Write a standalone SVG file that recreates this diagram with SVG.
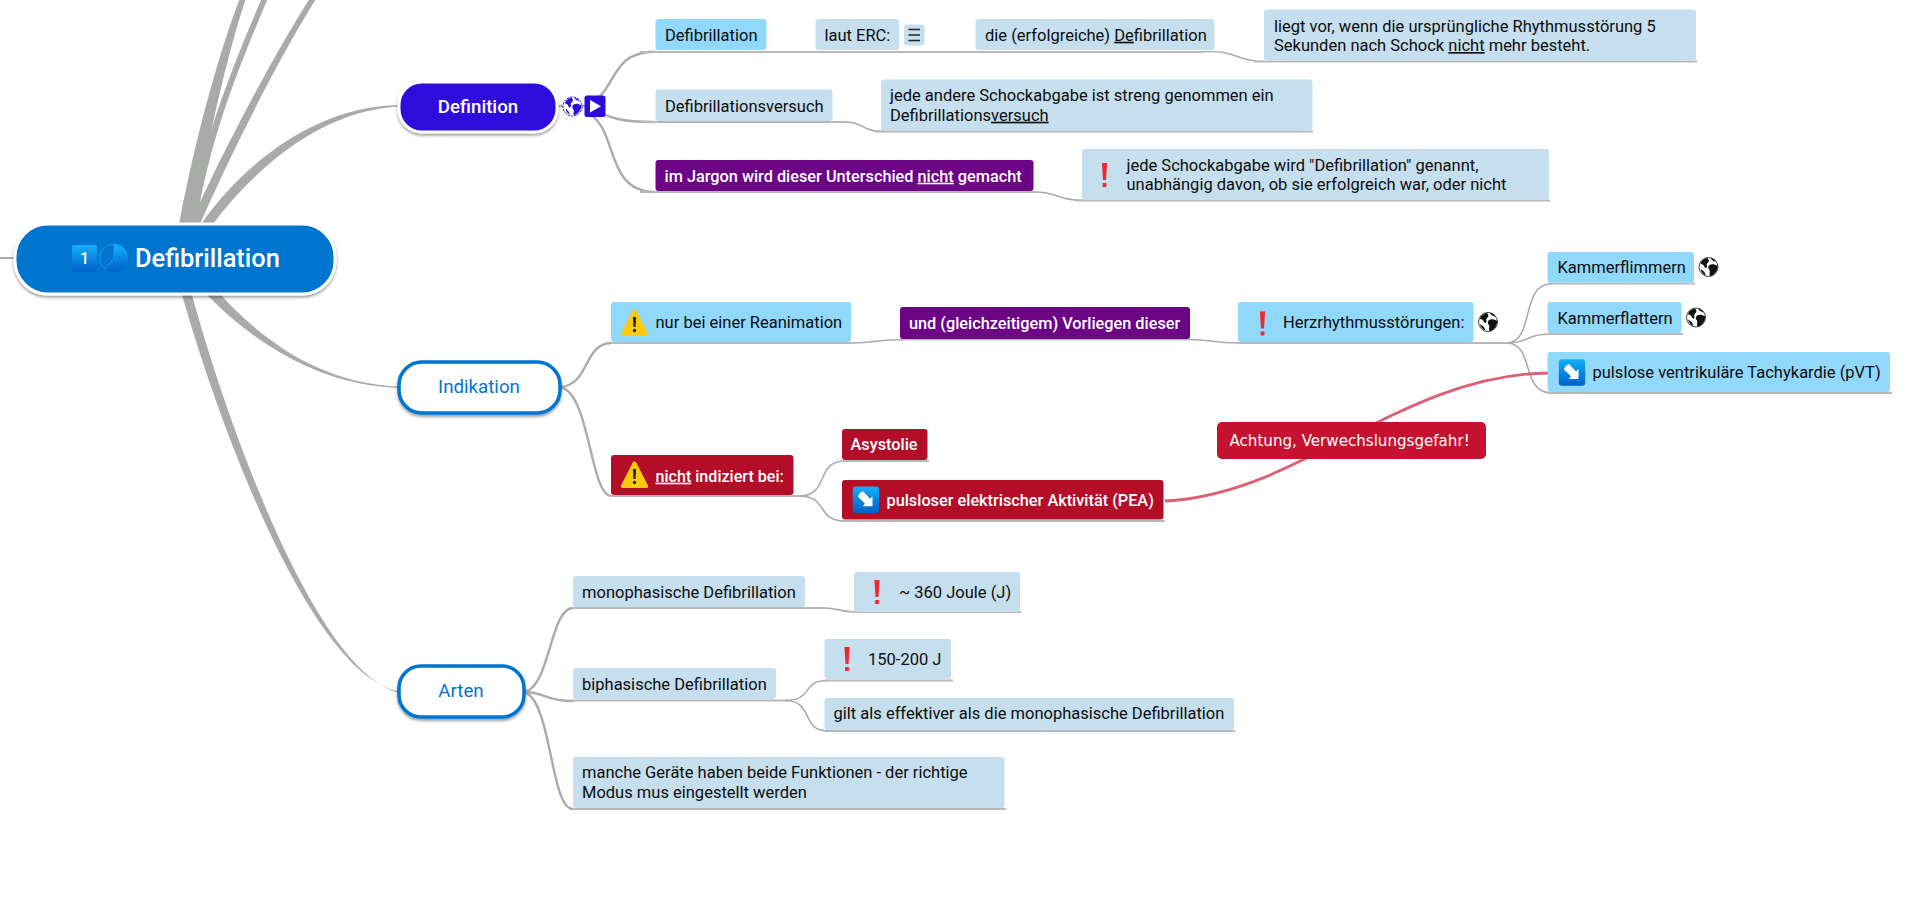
<svg xmlns="http://www.w3.org/2000/svg" xmlns:xlink="http://www.w3.org/1999/xlink" width="1920" height="906" viewBox="0 0 1920 906">
<style>
text{font-family:Roboto,"Liberation Sans",sans-serif;font-size:16.5px;fill:#0d0d0d}
.w{fill:#fff;font-weight:500;font-size:16.3px}
.u{text-decoration:underline}
.lb{fill:#c5dfee}.br{fill:#91d8fd}.pu{fill:#6c0485}.re{fill:#b40d28}
.l3{fill:none;stroke:#aaabaa;stroke-width:1.6}
.ul{fill:none;stroke:#b9b9b9;stroke-width:2}
.l2{fill:none;stroke:#aaabaa;stroke-width:2.4}
.th{fill:#a9aba9}
.lv1{font-size:18.7px;font-weight:500;text-anchor:middle}
.top{stroke:#fff;stroke-width:3;filter:url(#sh)}
.out{fill:#fff;stroke:#0274d0;stroke-width:3.5;filter:url(#sh)}
</style>
<defs>
<filter id="sh" x="-10%" y="-20%" width="120%" height="150%"><feDropShadow dx="0" dy="2" stdDeviation="1.6" flood-color="#000" flood-opacity=".4"/></filter>
<linearGradient id="ic" x1="0" y1="0" x2="0" y2="1"><stop offset="0" stop-color="#14b0f8"/><stop offset="1" stop-color="#0060c8"/></linearGradient>
<g id="excl"><path d="M-2.6,-12 L2.6,-12 L1.5,5 L-1.5,5 Z" fill="#f0272c"/><rect x="-1.9" y="8" width="3.8" height="4" fill="#f0272c"/></g>
<g id="warn"><path d="M0,-13.5 C1,-13.5 1.5,-13 2,-12 L13.5,10.5 C14,12 13,13 12,13 L-12,13 C-13,13 -14,12 -13.5,10.5 L-2,-12 C-1.5,-13 -1,-13.5 0,-13.5 Z" fill="#fcc90f"/><path d="M-1.6,-6 L1.6,-6 L1,4 L-1,4 Z" fill="#222"/><circle cy="7.5" r="1.7" fill="#222"/></g>
<g id="arrow"><rect x="-13.2" y="-13.2" width="26.4" height="26.4" rx="3" fill="url(#ic)"/><path d="M-6.5,-6.5 L-3,-8.5 L4,-1 L6.5,-3.5 L6.5,6.5 L-3.5,6.5 L-1,4 L-8,-3 Z" fill="#fff"/></g>
<g id="globe"><circle r="9.5" fill="#fff" stroke="#111" stroke-width=".8"/><path d="M-1,-9 C-4,-8.8 -7.5,-6 -8,-3 C-6,-3 -4.5,-2 -4,0 C-3,2 -1.5,1 -1.5,-1 C-2.5,-3 -1,-4 0,-5 C1,-6 0,-8 -1,-9 Z M2,-9 C3,-6.5 5,-6 7.5,-5 C6,-7.5 4,-8.8 2,-9 Z M1,-2 C3,-3 6,-3 9.2,-1 C9.5,3 6,8 2,9.2 C0,8 2,5 1,3 C-1,1 0,-1 1,-2 Z M-8,2 C-5,4 -3,5 -3,8.5 C-5,7.5 -7.5,5 -8,2 Z" fill="#111"/></g>
<g id="globew"><circle r="9.5" fill="#fff" stroke="#2e0bdc" stroke-width="1" stroke-dasharray="2.5 1"/><path d="M-1,-8.8 C-4,-8.5 -7,-6 -7.5,-3 C-6,-3 -4.5,-2 -4,0 C-3,2 -1.5,1 -1.5,-1 C-2.5,-3 -1,-4 0,-5 C1,-6 0,-8 -1,-8.8 Z M2,-8.5 C3,-6.5 5,-6 7,-5 C6,-7 4,-8.3 2,-8.5 Z M1,-2 C3,-3 6,-3 8.8,-1 C9,3 6,7 2,8.8 C0,8 2,5 1,3 C-1,1 0,-1 1,-2 Z M-7,2 C-5,4 -3,5 -3,8 C-5,7 -6.5,5 -7,2 Z" fill="#2e0bdc"/></g>
</defs>
<g id="connectors">
<path class="th" d="M0,257 H16 V259 H0 Z"/>
<path class="th" d="M179,224 C195,140 218,55 240,-2 L246,-2 C227,55 208,140 193,224 Z"/>
<path class="th" d="M186,224 C205,135 235,60 262,-2 L268,-2 C240,65 212,130 196,224 Z"/>
<path class="th" d="M190,224 C228,140 277,50 310,-2 L316.5,-2 C284,50 237,140 200,224 Z"/>
<path class="th" d="M201,224 C245,162 317,106 398,105.3 L398,106.8 C323,110 256,167 213,224 Z"/>
<path class="th" d="M206,294 C254,343 319,385 398,388 L398,386.5 C320,383 262,340 220,294 Z"/>
<path class="th" d="M181.7,294 C224,441 313,674 398,691 L398,692.5 C318,671 232,440 191.7,294 Z"/>
<g id="c-def">
<path class="l2" d="M556,106 H585"/>
<path class="l2" d="M590,104 C618,88 610,52 655,51.7"/>
<path class="l2" d="M590,108 C610,118 620,122 655,122"/>
<path class="l2" d="M585,112 C620,125 602,191 655,192"/>
<path class="ul" d="M640,52 H1204"/><path class="l3" d="M1204,51.5 C1240,51 1235,61 1264,61.5"/><path class="ul" d="M1255,61.5 H1697"/>
<path class="ul" d="M640,122 H845"/><path class="l3" d="M845,122 C865,122 860,131.5 885,131.5"/><path class="ul" d="M875,131.5 H1313"/>
<path class="ul" d="M640,192 H1035"/><path class="l3" d="M1035,192 C1060,192 1055,200.5 1085,200.5"/><path class="ul" d="M1075,200.5 H1550"/>
</g>
<g id="c-ind">
<path class="l2" d="M560,387 C590,385 583,344 611,343"/>
<path class="l2" d="M560,387 C590,392 590,495 611,496"/>
<path class="ul" d="M611,343 H851"/><path class="l3" d="M851,343 C878,343 875,339.5 902,339.5"/><path class="ul" d="M900,339.5 H1190"/><path class="l3" d="M1190,339.5 C1212,339.5 1210,343 1240,343"/><path class="ul" d="M1238,343 H1510"/>
<path class="l3" d="M1508,343 C1535,340 1520,284 1552,283.5"/>
<path class="l3" d="M1508,343 C1530,343 1525,334 1552,334"/>
<path class="l3" d="M1508,343 C1535,345 1520,393 1552,393"/>
<path class="ul" d="M1548,283.5 H1695"/><path class="ul" d="M1548,334 H1683"/><path class="ul" d="M1548,393 H1892"/>
<path class="ul" d="M611,496 H805"/>
<path class="l3" d="M800,496 C830,495 815,461 845,461"/>
<path class="l3" d="M800,496 C830,497 815,521 845,521"/>
<path class="ul" d="M842,461 H929"/><path class="ul" d="M842,521 H1165"/>
</g>
<g id="c-art">
<path class="l2" d="M524,692 C550,688 550,608 573,608"/>
<path class="l2" d="M524,692 C545,692 545,701 573,701"/>
<path class="l2" d="M524,692 C552,700 550,809 573,809"/>
<path class="ul" d="M573,608 H825"/><path class="l3" d="M825,608 C838,608 840,612 855,612"/><path class="ul" d="M852,612 H1021"/>
<path class="ul" d="M573,700.5 H788"/>
<path class="l3" d="M785,700.5 C815,700 800,680.5 828,680.5"/>
<path class="l3" d="M785,700.5 C815,701 800,731 828,731"/>
<path class="ul" d="M824.5,680.5 H953"/><path class="ul" d="M824.5,731 H1235"/><path class="ul" d="M573,809 H1006"/>
</g>
<path id="c-rel" fill="none" stroke="#dc5f73" stroke-width="2.8" d="M1165,501 C1300,495 1400,375 1548,373"/>
</g>
<g id="root"><rect class="top" x="15" y="224" width="320" height="70" rx="33" fill="#0274d0"/>
<rect x="72" y="245" width="25" height="27" rx="2" fill="url(#ic)"/><text x="84.5" y="264" class="w" text-anchor="middle" style="font-size:16px">1</text>
<circle cx="114" cy="258" r="14" fill="url(#ic)"/><path d="M114,258 V244 A14,14 0 0 0 105,269 Z" fill="#0274d0" stroke="#1a9be8" stroke-width="1"/>
<text x="135" y="267" class="w" style="font-size:25.4px">Defibrillation</text></g>
<g id="n-definition"><rect class="top" x="399" y="82" width="158" height="50" rx="23" fill="#2e0bdc"/><text x="478" y="113" class="lv1" style="fill:#fff">Definition</text>
<use xlink:href="#globew" x="572.5" y="106.5"/><rect x="584.5" y="95.5" width="21" height="21.5" rx="2.5" fill="#2e0bdc"/><path d="M590,100 L601,106.3 L590,112.5 Z" fill="#fff"/></g>
<g id="n-defi"><rect class="br" x="655.5" y="19" width="111" height="31" rx="3"/><text x="665" y="40.7">Defibrillation</text></g>
<g id="n-laut"><rect class="lb" x="815.5" y="19" width="83.5" height="31" rx="3"/><text x="824.5" y="40.7">laut ERC:</text>
<rect class="lb" x="904" y="24.5" width="20.5" height="21" rx="3"/><path d="M908.5,29.5 H920 M908.5,35 H920 M908.5,40.5 H920" stroke="#222" stroke-width="1.3" fill="none"/></g>
<g id="n-erf"><rect class="lb" x="975.5" y="19" width="239" height="31" rx="3"/><text x="985" y="40.7">die (erfolgreiche) <tspan class="u">De</tspan>fibrillation</text></g>
<g id="n-liegt"><rect class="lb" x="1264" y="9.5" width="432" height="51" rx="3"/><text x="1274" y="31.7">liegt vor, wenn die ursprüngliche Rhythmusstörung 5</text><text x="1274" y="51">Sekunden nach Schock <tspan class="u">nicht</tspan> mehr besteht.</text></g>
<g id="n-versuch"><rect class="lb" x="655.5" y="89.5" width="177" height="31.5" rx="3"/><text x="665" y="111.5">Defibrillationsversuch</text></g>
<g id="n-jede"><rect class="lb" x="881" y="79.5" width="431.5" height="51" rx="3"/><text x="890" y="101">jede andere Schockabgabe ist streng genommen ein</text><text x="890" y="120.7">Defibrillations<tspan class="u">versuch</tspan></text></g>
<g id="n-jargon"><rect class="pu" x="655.5" y="160" width="378" height="31" rx="3"/><text x="664.5" y="181.7" class="w">im Jargon wird dieser Unterschied <tspan class="u">nicht</tspan> gemacht</text></g>
<g id="n-schock"><rect class="lb" x="1082" y="149" width="467" height="51" rx="3"/><use xlink:href="#excl" x="1104.5" y="175"/><text x="1126.5" y="170.7">jede Schockabgabe wird "Defibrillation" genannt,</text><text x="1126.5" y="190.3">unabhängig davon, ob sie erfolgreich war, oder nicht</text></g>
<g id="n-indikation"><rect class="out" x="399" y="362" width="161" height="51" rx="23"/><text x="479" y="393" class="lv1" style="fill:#0274d0;font-weight:400">Indikation</text></g>
<g id="n-rean"><rect class="br" x="611" y="302" width="240" height="40" rx="3"/><use xlink:href="#warn" x="634.5" y="323"/><text x="655.5" y="328.3">nur bei einer Reanimation</text></g>
<g id="n-und"><rect class="pu" x="900" y="307" width="290" height="32" rx="3"/><text x="909" y="329.3" class="w">und (gleichzeitigem) Vorliegen dieser</text></g>
<g id="n-herz"><rect class="br" x="1238" y="302" width="235.5" height="40" rx="3"/><use xlink:href="#excl" x="1262.5" y="323.5"/><text x="1283" y="328">Herzrhythmusstörungen:</text><use xlink:href="#globe" x="1488" y="322"/></g>
<g id="n-flimmern"><rect class="br" x="1547.5" y="252" width="146.5" height="30.5" rx="3"/><text x="1557.5" y="272.7">Kammerflimmern</text><use xlink:href="#globe" x="1708.5" y="267"/></g>
<g id="n-flattern"><rect class="br" x="1547.5" y="302" width="134" height="31" rx="3"/><text x="1557.5" y="324">Kammerflattern</text><use xlink:href="#globe" x="1696" y="317.5"/></g>
<g id="n-pvt"><rect class="br" x="1547.5" y="352" width="342.5" height="40" rx="3"/><use xlink:href="#arrow" x="1572" y="372.5"/><text x="1592.5" y="378.3">pulslose ventrikuläre Tachykardie (pVT)</text></g>
<g id="n-achtung"><rect x="1217" y="422" width="269" height="37" rx="5" fill="#c41230"/><text x="1229.5" y="446" style="font-family:'DejaVu Sans',sans-serif;font-size:15.1px;fill:#fff">Achtung, Verwechslungsgefahr!</text></g>
<g id="n-nicht"><rect class="re" x="611" y="455" width="182.5" height="40" rx="3"/><use xlink:href="#warn" x="634.5" y="475"/><text x="655.5" y="481.7" class="w" style="font-size:16.1px"><tspan class="u">nicht</tspan> indiziert bei:</text></g>
<g id="n-asystolie"><rect class="re" x="842" y="429" width="85.5" height="31" rx="3"/><text x="850.5" y="450" class="w">Asystolie</text></g>
<g id="n-pea"><rect class="re" x="842" y="480" width="321.5" height="39.5" rx="3"/><use xlink:href="#arrow" x="866" y="499.7"/><text x="886.5" y="505.7" class="w">pulsloser elektrischer Aktivität (PEA)</text></g>
<g id="n-arten"><rect class="out" x="399" y="666" width="125" height="51" rx="22"/><text x="461" y="697" class="lv1" style="fill:#0274d0;font-weight:400">Arten</text></g>
<g id="n-mono"><rect class="lb" x="573" y="576" width="232" height="31" rx="3"/><text x="582" y="598.3">monophasische Defibrillation</text></g>
<g id="n-360"><rect class="lb" x="854" y="572" width="166" height="40" rx="3"/><use xlink:href="#excl" x="877" y="592"/><text x="899" y="597.7">~ 360 Joule (J)</text></g>
<g id="n-bi"><rect class="lb" x="573" y="668" width="203" height="31" rx="3"/><text x="582" y="690">biphasische Defibrillation</text></g>
<g id="n-150"><rect class="lb" x="824.5" y="639" width="126.5" height="40" rx="3"/><use xlink:href="#excl" x="847" y="659"/><text x="868" y="665">150-200 J</text></g>
<g id="n-gilt"><rect class="lb" x="824.5" y="698" width="409.5" height="32" rx="3"/><text x="833.5" y="719.3">gilt als effektiver als die monophasische Defibrillation</text></g>
<g id="n-manche"><rect class="lb" x="573" y="757" width="431.5" height="51" rx="3"/><text x="582" y="778">manche Geräte haben beide Funktionen - der richtige</text><text x="582" y="797.7">Modus mus eingestellt werden</text></g>
</svg>
